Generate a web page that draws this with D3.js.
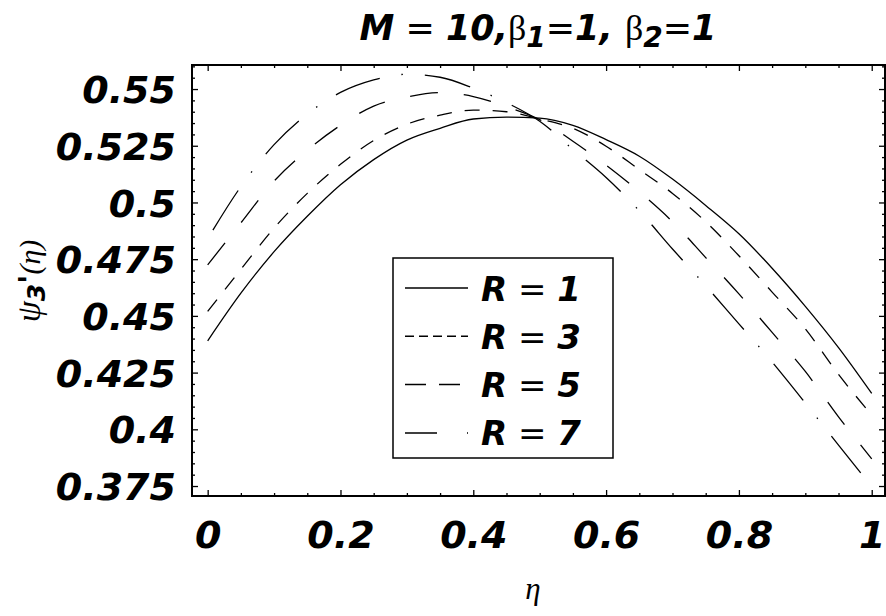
<!DOCTYPE html>
<html>
<head>
<meta charset="utf-8">
<script src="https://cdn.jsdelivr.net/npm/d3@7"></script>
<style>
body { margin: 0; background: #fff; }
</style>
</head>
<body>
<svg class="chart" width="886" height="616"></svg>
<script>
// values
const eta = [0, 0.05, 0.1, 0.15, 0.2, 0.25, 0.3, 0.35, 0.4, 0.45, 0.5,
             0.55, 0.6, 0.65, 0.7, 0.75, 0.8, 0.85, 0.9, 0.95, 1];
const r1 = [0.439, 0.460, 0.4783, 0.4939, 0.5078, 0.5189, 0.5275, 0.5327, 0.5368, 0.5376, 0.5372,
            0.534, 0.5277, 0.5204, 0.5103, 0.4987, 0.4862, 0.471, 0.4542, 0.436, 0.4158];
const r3 = [0.452, 0.4705, 0.4887, 0.504, 0.5168, 0.5273, 0.5345, 0.5385, 0.5407, 0.5400, 0.5368,
            0.5327, 0.5248, 0.5145, 0.504, 0.4915, 0.4765, 0.4605, 0.4443, 0.4242, 0.4063];
const r5 = [0.4725, 0.491, 0.5094, 0.523, 0.534, 0.5425, 0.5465, 0.5484, 0.5467, 0.5422, 0.5365,
            0.527, 0.5165, 0.5047, 0.4915, 0.4757, 0.4597, 0.4427, 0.4255, 0.4055, 0.387];
const r7 = [0.484, 0.507, 0.5255, 0.539, 0.5485, 0.554, 0.5565, 0.5552, 0.5504, 0.544, 0.5358,
            0.5234, 0.511, 0.4963, 0.4795, 0.4633, 0.4465, 0.4297, 0.4116, 0.393, 0.3747];
const seriesNames = ["1", "3", "5", "7"];

const xTicks = [0, 0.2, 0.4, 0.6, 0.8, 1];
const xTickLabels = ["0", "0.2", "0.4", "0.6", "0.8", "1"];
const yTicks = [0.375, 0.4, 0.425, 0.45, 0.475, 0.5, 0.525, 0.55];
const yTickLabels = ["0.375", "0.4", "0.425", "0.45", "0.475", "0.5", "0.525", "0.55"];

const svg = d3.select(".chart");
const margin = {left: 192, top: 65, right: 1, bottom: 120};
const width = +svg.attr("width") - margin.left - margin.right;
const height = +svg.attr("height") - margin.top - margin.bottom;

const xScale = d3.scaleLinear().domain([-0.0236, 1.02]).range([0, width]);
const yScale = d3.scaleLinear().domain([0.3706, 0.5606]).range([height, 0]);

const g = svg.append("g").attr("transform", `translate(${margin.left},${margin.top})`);

const boldIt = "font-family:'DejaVu Sans';font-weight:bold;font-style:italic";

// minor ticks
let xMinor = d3.range(0, 1.0001, 0.05).filter(v => Math.abs(v * 5 - Math.round(v * 5)) > 1e-6);
let yMinor = d3.range(0.375, 0.5601, 0.005).filter(v => Math.abs(v * 40 - Math.round(v * 40)) > 1e-6);

function addAxis(axis, tr) {
  let a = g.append("g").attr("transform", tr).call(axis);
  a.select(".domain").remove();
  a.selectAll("line").attr("stroke-width", 1.3);
  return a;
}

let xb = addAxis(d3.axisBottom(xScale).tickValues(xTicks).tickSize(-6).tickPadding(25)
  .tickFormat((d, i) => xTickLabels[i]), `translate(0,${height})`);
xb.selectAll("text").attr("style", boldIt).attr("font-size", 38).attr("fill", "#000");
addAxis(d3.axisBottom(xScale).tickValues(xMinor).tickSize(-3).tickFormat(""), `translate(0,${height})`);
addAxis(d3.axisTop(xScale).tickValues(xTicks).tickSize(-6).tickFormat(""), "translate(0,0)");
addAxis(d3.axisTop(xScale).tickValues(xMinor).tickSize(-3).tickFormat(""), "translate(0,0)");

let yl = addAxis(d3.axisLeft(yScale).tickValues(yTicks).tickSize(-6).tickPadding(16)
  .tickFormat((d, i) => yTickLabels[i]), "translate(0,0)");
yl.selectAll("text").attr("style", boldIt).attr("font-size", 38).attr("fill", "#000").attr("dy", "0.36em");
addAxis(d3.axisLeft(yScale).tickValues(yMinor).tickSize(-3).tickFormat(""), "translate(0,0)");
addAxis(d3.axisRight(yScale).tickValues(yTicks).tickSize(-6).tickFormat(""), `translate(${width},0)`);
addAxis(d3.axisRight(yScale).tickValues(yMinor).tickSize(-3).tickFormat(""), `translate(${width},0)`);

g.append("rect")
 .attr("width", width)
 .attr("height", height)
 .attr("fill", "none")
 .attr("stroke", "#000")
 .attr("stroke-width", 2);

// curves
const series = [r1, r3, r5, r7];
const plotDash = [null, "15,13", "28,26", "47,22,1.5,22"];
const dashOffset = [0, 0, 0, -10];
const legendDash = [null, "9,5", "21,13", "32,30,2,30"];

const line = d3.line()
  .x(d => xScale(d[0]))
  .y(d => yScale(d[1]))
  .curve(d3.curveMonotoneX);

for (let i = 0; i < series.length; i++) {
  g.append("path")
   .datum(eta.map((e, j) => [e, series[i][j]]))
   .attr("fill", "none")
   .attr("stroke", "#000")
   .attr("stroke-width", 1.3)
   .attr("stroke-dasharray", plotDash[i])
   .attr("stroke-dashoffset", dashOffset[i])
   .attr("d", line);
}

// legend
const lg = svg.append("g").attr("transform", "translate(393,258)");
lg.append("rect")
  .attr("width", 220)
  .attr("height", 200)
  .attr("fill", "#fff")
  .attr("stroke", "#000")
  .attr("stroke-width", 1.5);

for (let i = 0; i < seriesNames.length; i++) {
  let yy = 30 + i * 48.3;
  lg.append("line")
    .attr("x1", 12).attr("x2", 75)
    .attr("y1", yy).attr("y2", yy)
    .attr("stroke", "#000")
    .attr("stroke-width", 1.5)
    .attr("stroke-dasharray", legendDash[i]);
  let t = lg.append("text")
    .attr("x", 88)
    .attr("y", yy + 12.5)
    .attr("font-size", 34)
    .attr("fill", "#000");
  t.append("tspan").attr("style", boldIt).text("R");
  t.append("tspan").attr("font-family", "DejaVu Sans").attr("xml:space", "preserve").text(" = ");
  t.append("tspan").attr("style", boldIt).text(seriesNames[i]);
}

// title
const title = svg.append("text")
  .attr("x", 538)
  .attr("y", 40)
  .attr("text-anchor", "middle")
  .attr("font-size", 35)
  .attr("fill", "#000");
title.append("tspan").attr("style", boldIt).text("M");
title.append("tspan").attr("font-family", "DejaVu Sans").text(" = ");
title.append("tspan").attr("style", boldIt).text("10,");
title.append("tspan").attr("font-family", "Liberation Serif").attr("font-size", 36).text("β");
title.append("tspan").attr("style", boldIt).attr("font-size", 28).attr("dy", 7).text("1");
title.append("tspan").attr("font-family", "DejaVu Sans").attr("dy", -7).text("=");
title.append("tspan").attr("style", boldIt).text("1, ");
title.append("tspan").attr("font-family", "Liberation Serif").attr("font-size", 36).text("β");
title.append("tspan").attr("style", boldIt).attr("font-size", 28).attr("dy", 7).text("2");
title.append("tspan").attr("font-family", "DejaVu Sans").attr("dy", -7).text("=");
title.append("tspan").attr("style", boldIt).text("1");

// axis labels
svg.append("text")
   .attr("x", 533)
   .attr("y", 599)
   .attr("text-anchor", "middle")
   .attr("font-family", "Liberation Serif")
   .attr("font-style", "italic")
   .attr("font-size", 31)
   .attr("fill", "#000")
   .text("η");

const yLab = svg.append("text")
   .attr("transform", "translate(40,281) rotate(-90)")
   .attr("text-anchor", "middle")
   .attr("font-size", 34)
   .attr("fill", "#000");
yLab.append("tspan").attr("font-family", "Liberation Serif").attr("font-style", "italic").text("ψ");
yLab.append("tspan").attr("style", boldIt).attr("font-size", 25).attr("dy", 5).text("3");
yLab.append("tspan").attr("style", boldIt).attr("font-size", 30).attr("dy", -5).text("'");
yLab.append("tspan").attr("font-family", "Liberation Serif").attr("font-style", "italic").attr("font-size", 30).text("(η)");
</script>
</body>
</html>
